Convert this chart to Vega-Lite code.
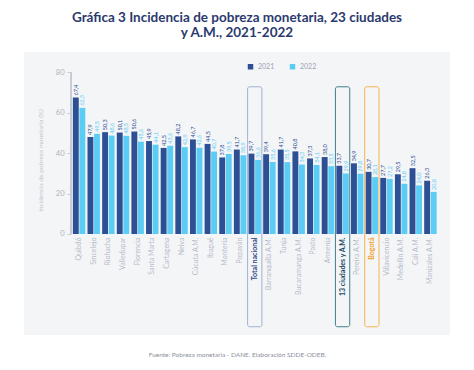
{
  "$schema": "https://vega.github.io/schema/vega-lite/v6.json",
  "autosize": {"type": "none"},
  "width": 426,
  "height": 283,
  "padding": {"left": 24, "top": 52, "right": 24, "bottom": 35},
  "background": "#ffffff",
  "title": {
    "text": ["Gráfica 3 Incidencia de pobreza monetaria, 23 ciudades", "y A.M., 2021-2022"],
    "anchor": "middle",
    "font": "Lato",
    "fontSize": 13.5,
    "fontWeight": "bold",
    "color": "#2b3a6e",
    "lineHeight": 15,
    "offset": 13
  },
  "config": {
    "locale": {"number": {"decimal": ",", "thousands": ".", "grouping": [3], "currency": ["$", ""]}},
    "view": {"fill": "#f4f5f7", "stroke": null},
    "font": "Lato"
  },
  "datasets": {
    "main": [
      {"ciudad": "Quibdó", "anio": "2021", "valor": 67.4}, {"ciudad": "Quibdó", "anio": "2022", "valor": 62.3},
      {"ciudad": "Sincelejo", "anio": "2021", "valor": 47.9}, {"ciudad": "Sincelejo", "anio": "2022", "valor": 49.5},
      {"ciudad": "Riohacha", "anio": "2021", "valor": 50.3}, {"ciudad": "Riohacha", "anio": "2022", "valor": 48.6},
      {"ciudad": "Valledupar", "anio": "2021", "valor": 50.1}, {"ciudad": "Valledupar", "anio": "2022", "valor": 48.5},
      {"ciudad": "Florencia", "anio": "2021", "valor": 50.6}, {"ciudad": "Florencia", "anio": "2022", "valor": 45.6},
      {"ciudad": "Santa Marta", "anio": "2021", "valor": 45.9}, {"ciudad": "Santa Marta", "anio": "2022", "valor": 44.1},
      {"ciudad": "Cartagena", "anio": "2021", "valor": 42.5}, {"ciudad": "Cartagena", "anio": "2022", "valor": 43.6},
      {"ciudad": "Neiva", "anio": "2021", "valor": 48.2}, {"ciudad": "Neiva", "anio": "2022", "valor": 42.9},
      {"ciudad": "Cúcuta A.M.", "anio": "2021", "valor": 46.7}, {"ciudad": "Cúcuta A.M.", "anio": "2022", "valor": 42.6},
      {"ciudad": "Ibagué", "anio": "2021", "valor": 44.5}, {"ciudad": "Ibagué", "anio": "2022", "valor": 40.7},
      {"ciudad": "Montería", "anio": "2021", "valor": 37.8}, {"ciudad": "Montería", "anio": "2022", "valor": 39.5},
      {"ciudad": "Popayán", "anio": "2021", "valor": 41.7}, {"ciudad": "Popayán", "anio": "2022", "valor": 38.9},
      {"ciudad": "Total nacional", "anio": "2021", "valor": 39.7}, {"ciudad": "Total nacional", "anio": "2022", "valor": 36.6},
      {"ciudad": "Barranquilla A.M.", "anio": "2021", "valor": 39.4}, {"ciudad": "Barranquilla A.M.", "anio": "2022", "valor": 35.6},
      {"ciudad": "Tunja", "anio": "2021", "valor": 41.7}, {"ciudad": "Tunja", "anio": "2022", "valor": 35.5},
      {"ciudad": "Bucaramanga A.M.", "anio": "2021", "valor": 40.8}, {"ciudad": "Bucaramanga A.M.", "anio": "2022", "valor": 34.3},
      {"ciudad": "Pasto", "anio": "2021", "valor": 37.3}, {"ciudad": "Pasto", "anio": "2022", "valor": 34.1},
      {"ciudad": "Armenia", "anio": "2021", "valor": 38.0}, {"ciudad": "Armenia", "anio": "2022", "valor": 33.5},
      {"ciudad": "13 ciudades y A.M.", "anio": "2021", "valor": 33.7}, {"ciudad": "13 ciudades y A.M.", "anio": "2022", "valor": 29.9},
      {"ciudad": "Pereira A.M.", "anio": "2021", "valor": 34.9}, {"ciudad": "Pereira A.M.", "anio": "2022", "valor": 29.8},
      {"ciudad": "Bogotá", "anio": "2021", "valor": 30.7}, {"ciudad": "Bogotá", "anio": "2022", "valor": 28.1},
      {"ciudad": "Villavicencio", "anio": "2021", "valor": 27.7}, {"ciudad": "Villavicencio", "anio": "2022", "valor": 27.2},
      {"ciudad": "Medellín A.M.", "anio": "2021", "valor": 29.5}, {"ciudad": "Medellín A.M.", "anio": "2022", "valor": 24.8},
      {"ciudad": "Cali A.M.", "anio": "2021", "valor": 32.5}, {"ciudad": "Cali A.M.", "anio": "2022", "valor": 24.0},
      {"ciudad": "Manizales A.M.", "anio": "2021", "valor": 26.3}, {"ciudad": "Manizales A.M.", "anio": "2022", "valor": 20.8}
    ],
    "boxes": [
      {"ciudad": "Total nacional", "grupo": "total"},
      {"ciudad": "13 ciudades y A.M.", "grupo": "trece"},
      {"ciudad": "Bogotá", "grupo": "bogota"}
    ]
  },
  "encoding": {
    "x": {
      "field": "ciudad",
      "type": "nominal",
      "sort": null,
      "scale": {
        "domain": [" ", "  ", "   ", "Quibdó", "Sincelejo", "Riohacha", "Valledupar", "Florencia", "Santa Marta", "Cartagena", "Neiva", "Cúcuta A.M.", "Ibagué", "Montería", "Popayán", "Total nacional", "Barranquilla A.M.", "Tunja", "Bucaramanga A.M.", "Pasto", "Armenia", "13 ciudades y A.M.", "Pereira A.M.", "Bogotá", "Villavicencio", "Medellín A.M.", "Cali A.M.", "Manizales A.M."],
        "paddingInner": 0.15,
        "paddingOuter": 0.625,
        "align": 0.27
      },
      "axis": {
        "title": "Fuente: Pobreza monetaria - DANE. Elaboración SDDE-ODEB.",
        "titleFontSize": 6.5,
        "titleFontWeight": "normal",
        "titleColor": "#8a909c",
        "titlePadding": 55,
        "offset": -101,
        "domain": false,
        "ticks": false,
        "labelAngle": -90,
        "labelPadding": 3,
        "labelFontSize": 7,
        "labelColor": {
          "condition": [
            {"test": "datum.value === 'Bogotá'", "value": "#f0a02a"},
            {"test": "datum.value === 'Total nacional'", "value": "#2e4a8c"},
            {"test": "datum.value === '13 ciudades y A.M.'", "value": "#1d4a66"}
          ],
          "value": "#b6bdc8"
        },
        "labelFontWeight": {
          "condition": [
            {"test": "datum.value === 'Bogotá' || datum.value === 'Total nacional' || datum.value === '13 ciudades y A.M.'", "value": "bold"}
          ],
          "value": "normal"
        }
      }
    }
  },
  "layer": [
    {
      "data": {"name": "main"},
      "mark": {"type": "bar"},
      "encoding": {
        "xOffset": {"field": "anio", "type": "nominal", "scale": {"paddingInner": 0.1}},
        "y": {
          "field": "valor",
          "type": "quantitative",
          "scale": {"domain": [-49.88, 89.88], "nice": false, "zero": false},
          "axis": {
            "title": "Incidencia de pobreza monetaria (%)",
            "values": [0, 10, 20, 30, 40, 50, 60, 70, 80],
            "labelOverlap": false,
            "offset": -47,
            "domain": false,
            "grid": false,
            "tickSize": 4,
            "tickColor": "#c8ccd4",
            "labelColor": "#b0b4bc",
            "labelFontSize": 7.5,
            "labelPadding": 3,
            "titleFontSize": 6.5,
            "titleFontWeight": "normal",
            "titleColor": "#c0c5ce",
            "titlePadding": 12,
            "titleY": 108
          }
        },
        "color": {
          "field": "anio",
          "type": "nominal",
          "scale": {"domain": ["2021", "2022"], "range": ["#2d4f94", "#5bcdf4"]},
          "legend": {
            "title": null,
            "orient": "none",
            "legendX": 223,
            "legendY": 11,
            "direction": "horizontal",
            "symbolType": "square",
            "symbolSize": 30,
            "labelFontSize": 7,
            "labelColor": "#9aa3b5",
            "columnPadding": 14
          }
        }
      }
    },
    {
      "data": {"name": "boxes"},
      "mark": {"type": "bar", "fill": "transparent", "strokeWidth": 1, "cornerRadius": 2, "width": {"band": 1.15}},
      "encoding": {
        "y": {"datum": 72.7, "type": "quantitative"},
        "y2": {"datum": -45.8},
        "stroke": {
          "field": "grupo",
          "type": "nominal",
          "scale": {"domain": ["total", "trece", "bogota"], "range": ["#9fb1d0", "#3f7f8c", "#f6b455"]},
          "legend": null
        }
      }
    },
    {
      "data": {"name": "main"},
      "mark": {"type": "text", "angle": 270, "align": "left", "baseline": "middle", "dx": 2, "fontSize": 5.5},
      "encoding": {
        "xOffset": {"field": "anio", "type": "nominal"},
        "y": {"field": "valor", "type": "quantitative"},
        "text": {"field": "valor", "type": "quantitative", "format": ".1f"},
        "color": {"field": "anio", "type": "nominal"}
      }
    },
    {
      "data": {"name": "main"},
      "mark": {"type": "rule", "stroke": "#c8ccd4", "strokeWidth": 0.8, "xOffset": -8},
      "encoding": {
        "x": {"datum": "Quibdó"},
        "y": {"datum": 0, "type": "quantitative"},
        "y2": {"datum": 80}
      }
    }
  ]
}
